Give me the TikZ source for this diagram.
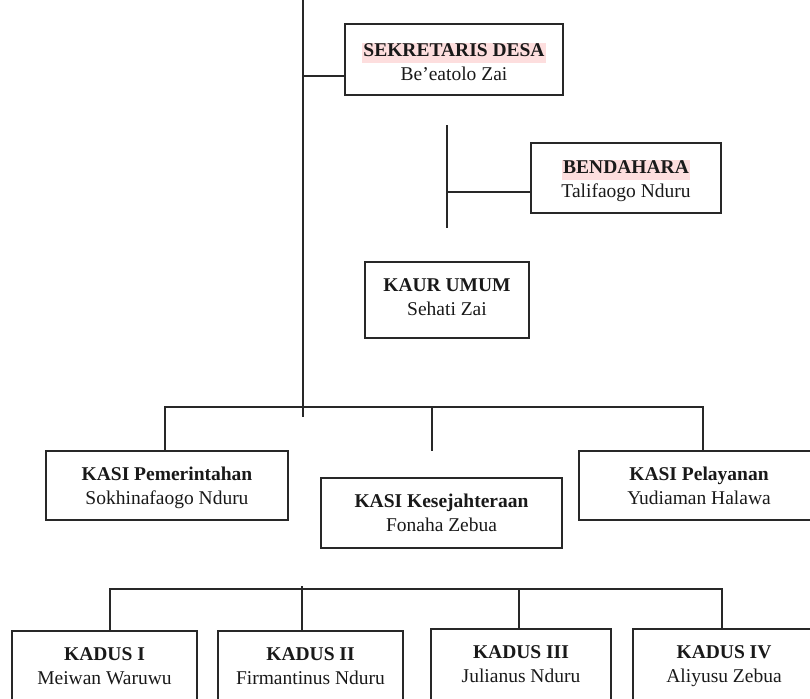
\documentclass[tikz,border=0pt]{standalone}
\usepackage{fontspec}
\setmainfont{Liberation Serif}
\definecolor{hlpink}{RGB}{253,222,222}
\definecolor{linec}{RGB}{40,40,40}
\newcommand{\ttl}[1]{\rule[-6pt]{0pt}{20pt}\textbf{#1}}
\newcommand{\hlttl}[1]{{\setlength{\fboxsep}{0pt}\colorbox{hlpink}{\rule[-6pt]{0pt}{20pt}\hspace{1pt}\textbf{#1}\hspace{1pt}}}}
\begin{document}
\begin{tikzpicture}[x=1pt,y=-1pt,
  font=\fontsize{19.5}{23.5}\selectfont,
  box/.style={draw=linec, line width=1.3pt, inner sep=0pt, rectangle},
  lbl/.style={anchor=north, yshift=-16pt, align=center, inner sep=0pt, text=black!90},
  conn/.style={draw=linec, line width=1.2pt}
]
\useasboundingbox (0,0) rectangle (810,698);
\clip (0,0) rectangle (810,698);

% upper boxes
\node[box, minimum width=218pt, minimum height=71pt,
  label={[lbl, yshift=-3pt]north:{\hlttl{SEKRETARIS DESA}\\Be’eatolo Zai}}] (sek) at (454,59.5) {};
\node[box, minimum width=190pt, minimum height=70pt,
  label={[lbl, yshift=-1pt]north:{\hlttl{BENDAHARA}\\Talifaogo Nduru}}] (bend) at (626,178) {};
\node[box, minimum width=164pt, minimum height=76pt,
  label={[lbl]north:{\ttl{KAUR UMUM}\\Sehati Zai}}] (kaur) at (447,300) {};

% KASI row
\node[box, minimum width=242pt, minimum height=69pt,
  label={[lbl]north:{\ttl{KASI Pemerintahan}\\Sokhinafaogo Nduru}}] (kp) at (167,485.5) {};
\node[box, minimum width=241pt, minimum height=70pt,
  label={[lbl]north:{\ttl{KASI Kesejahteraan}\\Fonaha Zebua}}] (kk) at (441.5,513) {};
\node[box, minimum width=240pt, minimum height=69pt,
  label={[lbl]north:{\ttl{KASI Pelayanan}\\Yudiaman Halawa}}] (kl) at (699,485.5) {};

% KADUS row
\node[box, minimum width=185pt, minimum height=70pt,
  label={[lbl]north:{\ttl{KADUS I}\\Meiwan Waruwu}}] (kd1) at (104.5,666) {};
\node[box, minimum width=185pt, minimum height=70pt,
  label={[lbl]north:{\ttl{KADUS II}\\Firmantinus Nduru}}] (kd2) at (310.5,666) {};
\node[box, minimum width=180pt, minimum height=72pt,
  label={[lbl]north:{\ttl{KADUS III}\\Julianus Nduru}}] (kd3) at (521,665) {};
\node[box, minimum width=182pt, minimum height=72pt,
  label={[lbl]north:{\ttl{KADUS IV}\\Aliyusu Zebua}}] (kd4) at (724,665) {};

% coordinates
\coordinate (mtop) at (303,0);
\coordinate (mbot) at (303,417);
\coordinate (sj) at (303,76);
\coordinate (btop) at (447,125);
\coordinate (bbot) at (447,228);
\coordinate (bj) at (447,192);
\coordinate (kbl) at (165,407);
\coordinate (kbr) at (703,407);
\coordinate (kbm) at (432,407);
\coordinate (kbms) at (432,451);
\coordinate (dbl) at (110,589);
\coordinate (dbr) at (722,589);
\coordinate (d2t) at (302,586);
\coordinate (d3t) at (519,589);

% connectors
\draw[conn] (mtop) -- (mbot);
\draw[conn] (sj) -- (sj -| sek.west);
\draw[conn] (btop) -- (bbot);
\draw[conn] (bj) -- (bj -| bend.west);
\draw[conn] (kp.north -| kbl) -- (kbl) -- (kbr) -- (kbr |- kl.north);
\draw[conn] (kbm) -- (kbms);
\draw[conn] (kd1.north -| dbl) -- (dbl) -- (dbr) -- (dbr |- kd4.north);
\draw[conn] (d2t) -- (d2t |- kd2.north);
\draw[conn] (d3t) -- (d3t |- kd3.north);
\end{tikzpicture}
\end{document}
